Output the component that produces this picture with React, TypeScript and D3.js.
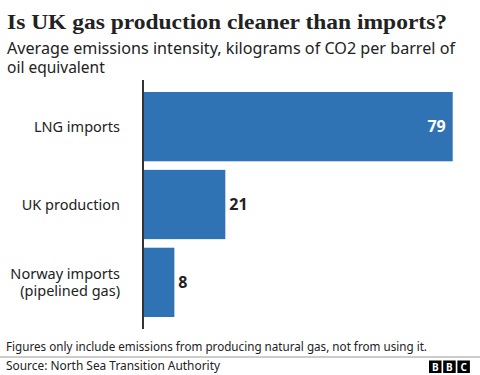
import React from "react";
import * as d3 from "d3";

const categories: string[][] = [["LNG imports"], ["UK production"], ["Norway imports", "(pipelined gas)"]];
const values: number[] = [79, 21, 8];
const valueLabels: string[] = ["79", "21", "8"];

const W = 480;
const H = 375;
const SANS = "'Noto Sans', 'Open Sans', sans-serif";
const SERIF = "'Liberation Serif', 'DejaVu Serif', serif";
const BLUE = "#2f73b4";
const INK = "#222222";

export default function App() {
  const x0 = 143;
  const x = d3.scaleLinear().domain([0, 79]).range([x0, 452.7]);
  const y = d3
    .scaleBand<number>()
    .domain(d3.range(values.length))
    .range([92, 317])
    .paddingInner(0.11)
    .paddingOuter(0);

  return (
    <div style={{ position: "fixed", left: 0, top: 0, width: W, height: H, background: "#fff" }}>
      <svg width={W} height={H} style={{ display: "block" }}>
        <rect width={W} height={H} fill="#fff" />
        <text x={7} y={29} fontFamily={SERIF} fontWeight={700} fontSize={22} fill={INK} textLength={440} lengthAdjust="spacingAndGlyphs">
          Is UK gas production cleaner than imports?
        </text>
        <text x={7} y={54} fontFamily={SANS} fontSize={15.5} fill={INK} textLength={448} lengthAdjust="spacingAndGlyphs">
          Average emissions intensity, kilograms of CO2 per barrel of
        </text>
        <text x={7} y={73} fontFamily={SANS} fontSize={15.5} fill={INK}>
          oil equivalent
        </text>

        {values.map((v, i) => {
          const by = y(i) as number;
          const bh = y.bandwidth();
          const cy = by + bh / 2;
          const inside = i === 0;
          const lines = categories[i];
          return (
            <g key={i}>
              <rect x={x(0)} y={by} width={x(v) - x(0)} height={bh} fill={BLUE} />
              {lines.map((l, j) => (
                <text
                  key={j}
                  x={120}
                  y={cy + (j - (lines.length - 1) / 2) * 17.5}
                  dy="0.35em"
                  textAnchor="end"
                  fontFamily={SANS}
                  fontSize={14.5}
                  fill={INK}
                >
                  {l}
                </text>
              ))}
              <text
                x={inside ? x(v) - 7 : x(v) + 4}
                y={cy}
                dy="0.35em"
                textAnchor={inside ? "end" : "start"}
                fontFamily={SANS}
                fontWeight={700}
                fontSize={16}
                fill={inside ? "#ffffff" : INK}
              >
                {valueLabels[i]}
              </text>
            </g>
          );
        })}
        <line x1={x0} x2={x0} y1={80} y2={329} stroke="#333" strokeWidth={2} />

        <text x={6} y={351} fontFamily={SANS} fontSize={12.5} fill={INK} textLength={421} lengthAdjust="spacingAndGlyphs">
          Figures only include emissions from producing natural gas, not from using it.
        </text>
        <line x1={0} x2={W} y1={357} y2={357} stroke="#999" strokeWidth={1} />
        <text x={6} y={370} fontFamily={SANS} fontSize={12.5} fill={INK} textLength={214} lengthAdjust="spacingAndGlyphs">
          Source: North Sea Transition Authority
        </text>
        {["B", "B", "C"].map((c, i) => (
          <g key={i}>
            <rect x={429 + i * 14.2} y={360.5} width={12.5} height={12.5} fill="#000" />
            <text x={429 + i * 14.2 + 6.25} y={367} dy="0.35em" textAnchor="middle" fontFamily={SANS} fontWeight={700} fontSize={10} fill="#fff">
              {c}
            </text>
          </g>
        ))}
      </svg>
    </div>
  );
}
